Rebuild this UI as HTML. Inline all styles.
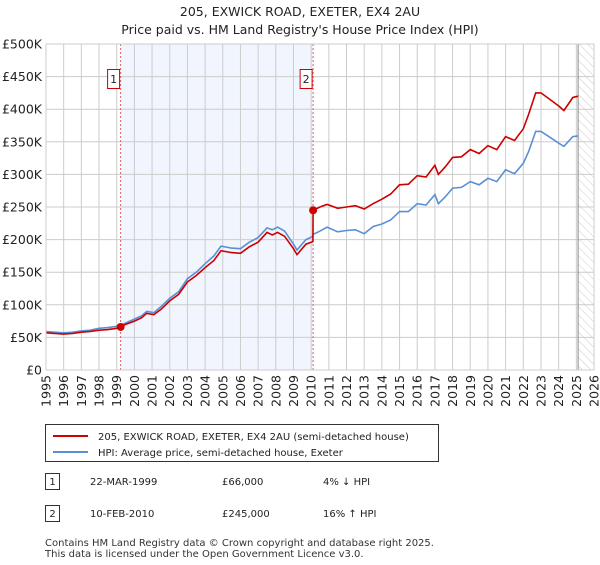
<!DOCTYPE html>
<html><head><meta charset="utf-8"><style>
body{margin:0;background:#fff;font-family:"Liberation Sans","DejaVu Sans",sans-serif;}
svg text{font-family:"DejaVu Sans","Liberation Sans",sans-serif;}
</style></head><body>
<svg id="chart" width="600" height="560" xmlns="http://www.w3.org/2000/svg">
<defs><pattern id="hatch" width="6" height="6" patternUnits="userSpaceOnUse" patternTransform="rotate(-45)"><line x1="0" y1="0" x2="0" y2="6" stroke="#ccc" stroke-width="1"/></pattern></defs>
<text x="300" y="16" text-anchor="middle" font-size="12.5" fill="#222">205, EXWICK ROAD, EXETER, EX4 2AU</text>
<text x="300" y="34" text-anchor="middle" font-size="12.5" fill="#222">Price paid vs. HM Land Registry's House Price Index (HPI)</text>
<g id="plot"></g>
<g>
<rect x="45.5" y="424.5" width="393" height="37" fill="#fff" stroke="#333" stroke-width="1"/>
<line x1="53" y1="436" x2="88" y2="436" stroke="#cc0000" stroke-width="2"/>
<text x="98" y="440" font-size="10" fill="#222">205, EXWICK ROAD, EXETER, EX4 2AU (semi-detached house)</text>
<line x1="53" y1="452" x2="88" y2="452" stroke="#5b8fd4" stroke-width="2"/>
<text x="98" y="456" font-size="10" fill="#222">HPI: Average price, semi-detached house, Exeter</text>
</g>
<g font-size="10" fill="#222">
<rect x="45.5" y="473.5" width="14" height="16" fill="#fff" stroke="#333"/><text x="52.5" y="485" text-anchor="middle">1</text>
<text x="90" y="485">22-MAR-1999</text><text x="222" y="485">£66,000</text><text x="323" y="485">4% ↓ HPI</text>
<rect x="45.5" y="505.5" width="14" height="16" fill="#fff" stroke="#333"/><text x="52.5" y="517" text-anchor="middle">2</text>
<text x="90" y="517">10-FEB-2010</text><text x="222" y="517">£245,000</text><text x="323" y="517">16% ↑ HPI</text>
</g>
<text x="45" y="546" font-size="10" fill="#333">Contains HM Land Registry data © Crown copyright and database right 2025.</text>
<text x="45" y="557" font-size="10" fill="#333">This data is licensed under the Open Government Licence v3.0.</text>
</svg>
<script>
const years=[1995,1995.5,1996,1996.5,1997,1997.5,1998,1998.5,1999,1999.22,1999.5,2000,2000.4,2000.7,2001.1,2001.5,2002,2002.5,2003,2003.5,2004,2004.5,2004.9,2005.5,2006,2006.5,2007,2007.5,2007.8,2008.1,2008.5,2009,2009.2,2009.7,2010.1,2010.11,2010.5,2010.9,2011.5,2012,2012.5,2013,2013.5,2014,2014.5,2015,2015.5,2016,2016.5,2017,2017.2,2017.6,2018,2018.5,2019,2019.5,2020,2020.5,2021,2021.5,2022,2022.3,2022.7,2023,2023.5,2024,2024.3,2024.8,2025.1];
const hpiValues=[59,58,57,58,60,61,64,65,67,69,72,78,83,90,88,97,110,120,140,150,163,175,190,187,186,196,203,218,215,219,213,193,184,200,205,208,213,219,212,214,215,209,220,224,230,243,243,255,253,269,255,266,279,280,289,284,294,289,307,301,317,335,366,366,357,348,343,358,359];
const priceValues=[57,56,55,56,58,59,61,62,64,66,70,75,80,87,85,93,106,116,135,145,157,168,183,180,179,189,196,211,207,211,205,186,177,193,197,245,250,254,248,250,252,247,255,262,270,284,285,298,296,314,300,312,326,327,338,332,344,338,358,352,370,392,425,425,415,405,398,418,420];
const saleYears=[1999.22,2010.11];
const saleValues=[66,245];
const saleLabels=["1","2"];
const yTicks=[0,50,100,150,200,250,300,350,400,450,500];
const yTickLabels=["£0","£50K","£100K","£150K","£200K","£250K","£300K","£350K","£400K","£450K","£500K"];
const xTicks=[1995,1996,1997,1998,1999,2000,2001,2002,2003,2004,2005,2006,2007,2008,2009,2010,2011,2012,2013,2014,2015,2016,2017,2018,2019,2020,2021,2022,2023,2024,2025,2026];
const dataEnd=2025.1;

const X0=46,X1=594,Y0=370,Y1=44;
const xs=y=>X0+(y-1995)/(2026-1995)*(X1-X0);
const ys=v=>Y0-v/500*(Y0-Y1);
const NS="http://www.w3.org/2000/svg";
const g=document.getElementById('plot');
function mk(t,a){const e=document.createElementNS(NS,t);for(const k in a)e.setAttribute(k,a[k]);g.appendChild(e);return e;}

let r=mk('rect',{x:xs(saleYears[0]),y:Y1,width:xs(saleYears[1])-xs(saleYears[0]),height:Y0-Y1,fill:'#eef3fc',opacity:0.8});


r=mk('rect',{x:xs(dataEnd),y:Y1,width:X1-xs(dataEnd),height:Y0-Y1,fill:'url(#hatch)'});



yTicks.forEach((v,i)=>{
 const l=mk('line',{x1:X0,x2:X1,y1:ys(v),y2:ys(v),stroke:'#cccccc','stroke-width':1});
 
 
 const t=mk('text',{x:X0-4,y:ys(v)+4.5,'text-anchor':'end','font-size':12.5,fill:'#222'});
 t.textContent=yTickLabels[i];
 
 
});
xTicks.forEach(yr=>{
 const l=mk('line',{x1:xs(yr),x2:xs(yr),y1:Y1,y2:Y0,stroke:'#cccccc','stroke-width':1});
 
 
 const t=mk('text',{x:0,y:0,'text-anchor':'end','font-size':12.5,fill:'#222',transform:`translate(${xs(yr)+4.5},${Y0+5}) rotate(-90)`});
 t.textContent=yr;
 
 
});
let el=mk('line',{x1:xs(dataEnd),x2:xs(dataEnd),y1:Y1,y2:Y0,stroke:'#888','stroke-width':1});



saleYears.forEach((yr,i)=>{
 const l=mk('line',{x1:xs(yr),x2:xs(yr),y1:Y1,y2:Y0,stroke:'#e06060','stroke-width':1,'stroke-dasharray':'2,2'});
 
 
 const b=mk('rect',{x:xs(yr)-13,y:69.5,width:12,height:19,fill:'#fff',stroke:'#cc0000','stroke-width':1});
 
 
 const t=mk('text',{x:xs(yr)-7,y:83,'text-anchor':'middle','font-size':11,fill:'#222'});
 t.textContent=saleLabels[i];
 
 
});

const path=vals=>vals.map((v,i)=>(i?'L':'M')+xs(years[i]).toFixed(1)+','+ys(v).toFixed(1)).join('');
el=mk('path',{d:path(hpiValues),fill:'none',stroke:'#5b8fd4','stroke-width':1.6});


el=mk('path',{d:path(priceValues),fill:'none',stroke:'#cc0000','stroke-width':1.6});


saleYears.forEach((yr,i)=>{
 const c=mk('circle',{cx:xs(yr),cy:ys(saleValues[i]),r:4,fill:'#cc0000'});
 
 
});
el=mk('rect',{x:X0,y:Y1,width:X1-X0,height:Y0-Y1,fill:'none',stroke:'#ccc'});


</script>
</body></html>
